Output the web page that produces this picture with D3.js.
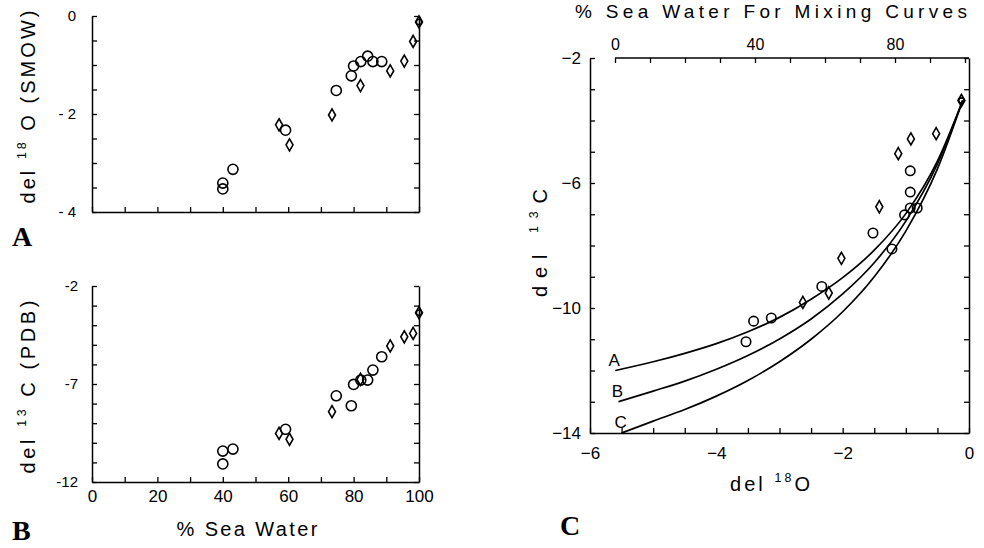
<!DOCTYPE html>
<html>
<head>
<meta charset="utf-8">
<script src="https://cdn.jsdelivr.net/npm/d3@7"></script>
<style>
  body { margin: 0; background: #fff; }
</style>
</head>
<body>
<script>
// Samples: % sea water, del 18O (SMOW), del 13C (PDB) and marker type
const pctSea = [40.0, 40.0, 43.1, 59.2, 74.7, 79.3, 80.0, 82.2, 84.3, 85.9, 88.6,
                57.2, 60.4, 73.4, 82.1, 91.2, 95.5, 98.2, 100];
const d18O   = [-3.41, -3.53, -3.13, -2.33, -1.52, -1.22, -1.02, -0.93, -0.82, -0.93, -0.93,
                -2.22, -2.63, -2.02, -1.42, -1.12, -0.92, -0.52, -0.12];
const d13C   = [-10.42, -11.08, -10.32, -9.31, -7.60, -8.11, -7.02, -6.80, -6.80, -6.29, -5.61,
                -9.52, -9.82, -8.41, -6.76, -5.06, -4.59, -4.42, -3.36];
const marker = ["o", "o", "o", "o", "o", "o", "o", "o", "o", "o", "o",
                "d", "d", "d", "d", "d", "d", "d", "od"];

// Mixing curves A, B, C (del 18O vs del 13C)
const mixNames = ["A", "B", "C"];
const mixX = [
  [-5.6, -5.0, -4.5, -4.0, -3.5, -3.0, -2.5, -2.0, -1.5, -1.0, -0.5, -0.1],
  [-5.55, -5.0, -4.5, -4.0, -3.5, -3.0, -2.5, -2.0, -1.5, -1.0, -0.5, -0.1],
  [-5.5, -5.0, -4.5, -4.0, -3.5, -3.0, -2.5, -2.0, -1.5, -1.0, -0.5, -0.1]
];
const mixY = [
  [-12.0, -11.72, -11.45, -11.14, -10.76, -10.30, -9.72, -9.03, -8.15, -6.98, -5.30, -3.36],
  [-13.0, -12.66, -12.34, -11.96, -11.52, -10.99, -10.35, -9.55, -8.55, -7.22, -5.39, -3.36],
  [-14.0, -13.62, -13.25, -12.82, -12.32, -11.72, -11.00, -10.12, -9.00, -7.54, -5.55, -3.36]
];

// tick labels
const ticksA = [0, -2, -4];
const ticksB = [-2, -7, -12];
const ticksPct = [0, 20, 40, 60, 80, 100];
const ticksCy = [-2, -6, -10, -14];
const ticksCx = [-6, -4, -2, 0];
const ticksTop = [0, 40, 80];

const width = 984, height = 548;
const svg = d3.select("body").append("svg")
    .attr("width", width)
    .attr("height", height)
    .style("font-family", "'Liberation Sans', Arial, sans-serif");

// scales
const xPct = d3.scaleLinear().domain([0, 100]).range([92, 419]);
const yA = d3.scaleLinear().domain([-4, 0]).range([212, 16]);
const yB = d3.scaleLinear().domain([-12, -2]).range([482, 286]);
const xC = d3.scaleLinear().domain([-6, 0]).range([590, 969]);
const yC = d3.scaleLinear().domain([-14, -2]).range([433, 58]);
const xTop = d3.scaleLinear().domain([0, 100]).range([615, 965]);

function minus(v) { return v < 0 ? "\u2212" + Math.abs(v) : String(v); }

// draw an axis and style it like the old plotter output
function drawAxis(axis, tx, ty, fontSize) {
    const g = svg.append("g")
        .attr("transform", `translate(${tx},${ty})`)
        .call(axis);
    g.selectAll("path.domain").attr("stroke", "#000").attr("stroke-width", 1.5);
    g.selectAll(".tick line").attr("stroke", "#000").attr("stroke-width", 1.3);
    g.selectAll("text").attr("fill", "#000").attr("font-size", fontSize + "px")
        .attr("font-family", "'Liberation Sans', Arial, sans-serif");
    g.attr("font-family", null).attr("font-size", null);
    return g;
}

// ---------- Panel A ----------
drawAxis(d3.axisLeft(yA).tickValues(d3.range(-4, 0.01, 0.5)).tickSize(-5).tickSizeOuter(0).tickPadding(16)
    .tickFormat(v => ticksA.includes(v) ? (v === 0 ? "0" : "- " + Math.abs(v)) : ""), 92, 0, 15);
drawAxis(d3.axisRight(yA).tickValues(d3.range(-4, 0.01, 0.5)).tickSize(-5).tickSizeOuter(0).tickFormat(""), 419, 0, 15);
drawAxis(d3.axisBottom(xPct).tickValues(d3.range(0, 101, 10)).tickSize(-5).tickSizeOuter(0).tickFormat(""), 0, 212, 15);

// ---------- Panel B ----------
drawAxis(d3.axisLeft(yB).tickValues(d3.range(-12, -1.9, 1)).tickSize(-5).tickSizeOuter(0).tickPadding(14)
    .tickFormat(v => ticksB.includes(v) ? "-" + Math.abs(v) : ""), 92, 0, 15);
drawAxis(d3.axisRight(yB).tickValues(d3.range(-12, -1.9, 1)).tickSize(-5).tickSizeOuter(0).tickFormat(""), 419, 0, 15);
drawAxis(d3.axisBottom(xPct).tickValues(d3.range(0, 101, 10)).tickSize(-5).tickSizeOuter(0).tickPadding(8)
    .tickFormat(v => ticksPct.includes(v) ? String(v) : ""), 0, 482, 17);

// ---------- Panel C ----------
drawAxis(d3.axisLeft(yC).tickValues(d3.range(-14, -1.9, 1)).tickSize(-5).tickSizeOuter(0).tickPadding(9)
    .tickFormat(v => ticksCy.includes(v) ? minus(v) : ""), 590, 0, 17);
drawAxis(d3.axisRight(yC).tickValues(d3.range(-14, -1.9, 1)).tickSize(-5).tickSizeOuter(0).tickFormat(""), 969, 0, 17);
drawAxis(d3.axisBottom(xC).tickValues(d3.range(-6, 0.01, 0.5)).tickSize(-5).tickSizeOuter(0).tickPadding(14)
    .tickFormat(v => ticksCx.includes(v) ? minus(v) : ""), 0, 433, 17);
const topAx = drawAxis(d3.axisTop(xTop).tickValues(d3.range(0, 101, 10)).tickSize(-5).tickSizeOuter(0).tickPadding(8)
    .tickFormat(v => ticksTop.includes(v) ? String(v) : ""), 0, 58, 16);
topAx.select("path.domain").remove();
svg.append("line")
    .attr("x1", xTop(0)).attr("x2", xC(0))
    .attr("y1", 58).attr("y2", 58)
    .attr("stroke", "#000").attr("stroke-width", 1.5);

// mixing curves
const line = d3.line()
    .x(d => xC(d[0]))
    .y(d => yC(d[1]))
    .curve(d3.curveMonotoneX);

mixNames.forEach((name, i) => {
    const pts = mixX[i].map((x, j) => [x, mixY[i][j]]);
    svg.append("path")
        .datum(pts)
        .attr("fill", "none")
        .attr("stroke", "#000")
        .attr("stroke-width", 1.7)
        .attr("d", line);
    svg.append("text")
        .attr("x", xC(mixX[i][0]) - 1)
        .attr("y", yC(mixY[i][0]) - 5)
        .attr("text-anchor", "middle")
        .attr("font-size", "17px")
        .text(name);
});

// ---------- markers ----------
const diamondSym = d3.symbol(d3.symbolDiamond, 42);

function drawMarkers(xf, yf, circleSize) {
    const g = svg.append("g")
        .attr("fill", "none")
        .attr("stroke", "#000")
        .attr("stroke-width", 1.6);
    pctSea.forEach((p, i) => {
        const cx = xf(i), cy = yf(i);
        if (marker[i].includes("o")) {
            const size = marker[i] === "od" ? 22 : circleSize;
            g.append("path")
                .attr("transform", `translate(${cx},${cy})`)
                .attr("d", d3.symbol(d3.symbolCircle, size)());
        }
        if (marker[i].includes("d")) {
            g.append("path")
                .attr("transform", `translate(${cx},${cy})`)
                .attr("d", diamondSym());
        }
    });
}

drawMarkers(i => xPct(pctSea[i]), i => yA(d18O[i]), 80);
drawMarkers(i => xPct(pctSea[i]), i => yB(d13C[i]), 80);
drawMarkers(i => xC(d18O[i]), i => yC(d13C[i]), 70);

// ---------- axis titles ----------
function isoLabel(sel, pre, sup, post) {
    sel.append("tspan").text(pre);
    sel.append("tspan").attr("font-size", "0.62em").attr("dy", "-0.75em").text(sup);
    sel.append("tspan").attr("dy", "0.46em").text(post);
}

const labA = svg.append("text")
    .attr("transform", "translate(35,107) rotate(-90)")
    .attr("text-anchor", "middle")
    .attr("font-size", "20px")
    .attr("textLength", 193)
    .attr("lengthAdjust", "spacing");
isoLabel(labA, "del ", "18", " O (SMOW)");

const labB = svg.append("text")
    .attr("transform", "translate(35,387) rotate(-90)")
    .attr("text-anchor", "middle")
    .attr("font-size", "20px")
    .attr("textLength", 173)
    .attr("lengthAdjust", "spacing");
isoLabel(labB, "del ", "13", " C (PDB)");

svg.append("text")
    .attr("x", 247).attr("y", 536)
    .attr("text-anchor", "middle")
    .attr("font-size", "20px")
    .attr("textLength", 141)
    .attr("lengthAdjust", "spacing")
    .text("% Sea Water");

const labCy = svg.append("text")
    .attr("transform", "translate(547,243) rotate(-90)")
    .attr("text-anchor", "middle")
    .attr("font-size", "20px")
    .attr("textLength", 108)
    .attr("lengthAdjust", "spacing");
isoLabel(labCy, "del ", "13", "C");

const labCx = svg.append("text")
    .attr("x", 770).attr("y", 491)
    .attr("text-anchor", "middle")
    .attr("font-size", "20px")
    .attr("textLength", 80)
    .attr("lengthAdjust", "spacing");
isoLabel(labCx, "del ", "18", "O");

svg.append("text")
    .attr("x", 771).attr("y", 18)
    .attr("text-anchor", "middle")
    .attr("font-size", "19px")
    .attr("textLength", 392)
    .attr("lengthAdjust", "spacing")
    .text("% Sea Water For Mixing Curves");

// panel letters
[["A", 12, 246], ["B", 12, 540], ["C", 560, 535]].forEach(([t, x, y]) => {
    svg.append("text")
        .attr("x", x).attr("y", y)
        .attr("font-family", "'Liberation Serif', 'Times New Roman', serif")
        .attr("font-weight", "bold")
        .attr("font-size", "28px")
        .text(t);
});
</script>
</body>
</html>
